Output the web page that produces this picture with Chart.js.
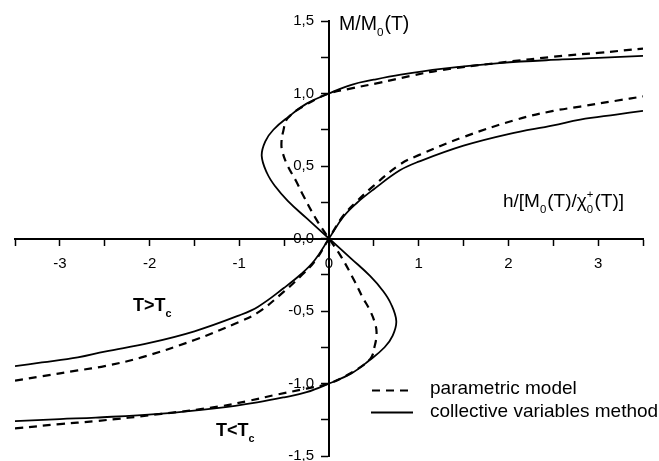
<!DOCTYPE html>
<html>
<head>
<meta charset="utf-8">
<script src="https://cdn.jsdelivr.net/npm/chart.js@4.4.0/dist/chart.umd.min.js"></script>
<style>
  html, body { margin: 0; padding: 0; background: #fff; }
</style>
</head>
<body>
<canvas id="grafico" width="659" height="461"></canvas>
<script>
// ticks
const xTickValues = [-3, -2, -1, 0, 1, 2, 3];
const xTickLabels = ['-3', '-2', '-1', '0', '1', '2', '3'];
const yTickValues = [-1.5, -1, -0.5, 0, 0.5, 1, 1.5];
const yTickLabels = ['-1,5', '-1,0', '-0,5', '0,0', '0,5', '1,0', '1,5'];

// parametric model, T > Tc
const pmAboveH = [-3.5, -3.2, -2.8, -2.5, -2.09, -1.5, -1.0, -0.79, -0.5, -0.3, -0.15, 0, 0.15, 0.3, 0.5, 0.79, 1.0, 1.5, 2.09, 2.5, 2.8, 3.2, 3.5];
const pmAboveM = [-0.98, -0.95, -0.91, -0.88, -0.82, -0.70, -0.575, -0.51, -0.365, -0.25, -0.15, 0, 0.15, 0.25, 0.365, 0.51, 0.575, 0.70, 0.82, 0.88, 0.91, 0.95, 0.98];

// parametric model, T < Tc
const pmBelowH = [-3.5, -3.0, -2.61, -1.87, -1.24, -0.9, -0.57, -0.25, 0, 0.25, 0.46, 0.51, 0.53, 0.52, 0.46, 0.37, 0.29, 0.14, 0, -0.14, -0.29, -0.37, -0.46, -0.52, -0.53, -0.51, -0.46, -0.25, 0, 0.25, 0.57, 0.9, 1.24, 1.87, 2.61, 3.0, 3.5];
const pmBelowM = [-1.31, -1.28, -1.26, -1.21, -1.16, -1.12, -1.075, -1.035, -1.0, -0.925, -0.83, -0.74, -0.66, -0.60, -0.50, -0.40, -0.30, -0.13, 0, 0.13, 0.30, 0.40, 0.50, 0.60, 0.66, 0.74, 0.83, 0.925, 1.0, 1.035, 1.075, 1.12, 1.16, 1.21, 1.26, 1.28, 1.31];

// collective variables method, T > Tc
const cvAboveH = [-3.5, -3.2, -2.8, -2.5, -2.0, -1.5, -1.0, -0.79, -0.5, -0.31, -0.16, 0, 0.16, 0.31, 0.5, 0.79, 1.0, 1.5, 2.0, 2.5, 2.8, 3.2, 3.5];
const cvAboveM = [-0.88, -0.855, -0.82, -0.78, -0.72, -0.64, -0.53, -0.47, -0.34, -0.245, -0.15, 0, 0.15, 0.245, 0.34, 0.47, 0.53, 0.64, 0.72, 0.78, 0.82, 0.855, 0.88];

// collective variables method, T < Tc
const cvBelowH = [-3.5, -3.0, -2.6, -1.9, -1.25, -0.8, -0.5, -0.25, 0, 0.25, 0.45, 0.62, 0.71, 0.75, 0.69, 0.60, 0.46, 0.25, 0, -0.25, -0.46, -0.60, -0.69, -0.75, -0.71, -0.62, -0.45, -0.25, 0, 0.25, 0.5, 0.8, 1.25, 1.9, 2.6, 3.0, 3.5];
const cvBelowM = [-1.26, -1.245, -1.235, -1.21, -1.17, -1.13, -1.095, -1.06, -1.0, -0.93, -0.84, -0.75, -0.67, -0.57, -0.45, -0.36, -0.26, -0.14, 0, 0.14, 0.26, 0.36, 0.45, 0.57, 0.67, 0.75, 0.84, 0.93, 1.0, 1.06, 1.095, 1.13, 1.17, 1.21, 1.235, 1.245, 1.26];

const FONT = '"Liberation Sans", Arial, sans-serif';
const DASH = [8, 6];

function pares(hs, ms) {
  return hs.map((h, i) => ({ x: h, y: ms[i] }));
}

function serie(hs, ms, dashed) {
  return {
    data: pares(hs, ms),
    showLine: true,
    borderColor: '#000',
    borderWidth: dashed ? 2.2 : 1.8,
    borderDash: dashed ? DASH : [],
    pointRadius: 0,
    tension: 0.4,
    fill: false,
  };
}

// texto con subindices / superindices
function textoRico(ctx, x, y, partes, size, weight) {
  let cx = x;
  const small = size * 0.6;
  partes.forEach(p => {
    if (p.sub === undefined && p.sup === undefined) {
      ctx.font = `${weight} ${size}px ${FONT}`;
      ctx.fillText(p.t, cx, y);
      cx += ctx.measureText(p.t).width;
    } else {
      ctx.font = `${weight} ${small}px ${FONT}`;
      let w = 0;
      if (p.sub !== undefined) {
        ctx.fillText(p.sub, cx, y + size * 0.33);
        w = Math.max(w, ctx.measureText(p.sub).width);
      }
      if (p.sup !== undefined) {
        ctx.fillText(p.sup, cx, y - size * 0.45);
        w = Math.max(w, ctx.measureText(p.sup).width);
      }
      cx += w + 1;
    }
  });
}

const textos = {
  id: 'textos',
  afterDraw(chart) {
    const ctx = chart.ctx;
    ctx.save();
    ctx.fillStyle = '#000';
    ctx.textBaseline = 'alphabetic';
    ctx.textAlign = 'left';

    // axis titles
    textoRico(ctx, 339, 30, [{ t: 'M/M' }, { sub: '0' }, { t: '(T)' }], 19.5, 'normal');
    textoRico(ctx, 503, 207, [
      { t: 'h/[M' }, { sub: '0' }, { t: '(T)/\u03C7' }, { sub: '0', sup: '+' }, { t: '(T)]' }
    ], 19, 'normal');

    // branch labels
    textoRico(ctx, 133, 311, [{ t: 'T>T' }, { sub: 'c' }], 18, 'bold');
    textoRico(ctx, 216, 436, [{ t: 'T<T' }, { sub: 'c' }], 18, 'bold');

    // legend
    ctx.strokeStyle = '#000';
    ctx.lineWidth = 2.2;
    ctx.setLineDash(DASH);
    ctx.beginPath();
    ctx.moveTo(372, 390.5);
    ctx.lineTo(410, 390.5);
    ctx.stroke();
    ctx.setLineDash([]);
    ctx.lineWidth = 1.8;
    ctx.beginPath();
    ctx.moveTo(371, 412.5);
    ctx.lineTo(413, 412.5);
    ctx.stroke();
    ctx.font = `normal 19px ${FONT}`;
    ctx.fillText('parametric model', 430, 394);
    ctx.fillText('collective variables method', 430, 417);
    ctx.restore();
  }
};

new Chart(document.getElementById('grafico').getContext('2d'), {
  type: 'scatter',
  data: {
    datasets: [
      serie(pmAboveH, pmAboveM, true),
      serie(pmBelowH, pmBelowM, true),
      serie(cvAboveH, cvAboveM, false),
      serie(cvBelowH, cvBelowM, false),
    ]
  },
  options: {
    responsive: false,
    animation: false,
    devicePixelRatio: 1,
    layout: { padding: { left: 15, right: 16, top: 21, bottom: 5 } },
    plugins: {
      legend: { display: false },
      tooltip: { enabled: false },
    },
    scales: {
      x: {
        type: 'linear',
        min: -3.5,
        max: 3.5,
        position: { y: 0 },
        grid: { drawOnChartArea: false, drawTicks: true, tickLength: 6, tickColor: '#000', tickWidth: 1.5 },
        border: { color: '#000', width: 2 },
        ticks: {
          stepSize: 0.5,
          autoSkip: false,
          maxRotation: 0,
          color: '#000',
          padding: 10,
          font: { family: FONT, size: 15 },
          callback: v => {
            const i = xTickValues.findIndex(t => Math.abs(t - v) < 1e-6);
            return i >= 0 ? xTickLabels[i] : '';
          }
        }
      },
      y: {
        type: 'linear',
        min: -1.5,
        max: 1.5,
        position: { x: 0 },
        // the axis sits in the middle, so its label overhang should not shrink the plot
        afterFit: s => { s.paddingTop = 0; s.paddingBottom = 0; },
        grid: { drawOnChartArea: false, drawTicks: true, tickLength: 7, tickColor: '#000', tickWidth: 1.5 },
        border: { color: '#000', width: 2 },
        ticks: {
          stepSize: 0.25,
          autoSkip: false,
          color: '#000',
          font: { family: FONT, size: 15 },
          // labels sit on the axis line for a centred scale, so push them left of the tick marks
          callback: v => {
            const i = yTickValues.findIndex(t => Math.abs(t - v) < 1e-6);
            return i >= 0 ? yTickLabels[i] + '\u2002\u2002' : '';
          }
        }
      }
    }
  },
  plugins: [textos]
});
</script>
</body>
</html>
